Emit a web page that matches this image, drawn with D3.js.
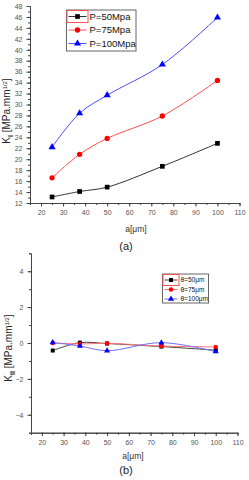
<!DOCTYPE html>
<html>
<head>
<meta charset="utf-8">
<script src="https://cdn.jsdelivr.net/npm/d3@7"></script>
<style>
  html, body { margin: 0; padding: 0; background: #fff; }
  svg { display: block; font-family: 'Liberation Sans', Arial, sans-serif; }
</style>
</head>
<body>
<svg id="chart" width="249" height="480"></svg>
<script>
// crack length a [µm]
const crackLengths = [25, 37.5, 50, 75, 100]

// (a) K_I for three pressures
const kI_P50  = [13.1, 14.1, 14.9, 18.7, 22.9]
const kI_P75  = [16.6, 20.9, 23.8, 27.9, 34.4]
const kI_P100 = [22.2, 28.4, 31.7, 37.3, 45.9]
const legendA = ['P=50Mpa', 'P=75Mpa', 'P=100Mpa']

// (b) K_II for three sizes
const kII_50  = [-0.42, 0.02, -0.03, -0.2, -0.4]
const kII_75  = [0.0, -0.05, -0.02, -0.17, -0.22]
const kII_100 = [0.03, -0.17, -0.43, 0.02, -0.48]
const legendB = ['θ=50μm', 'θ=75μm', 'θ=100μm']

const xTicks   = [20, 30, 40, 50, 60, 70, 80, 90, 100, 110]
const yTicksA  = d3.range(12, 49, 2)
const yTicksB  = [-4, -2, 0, 2, 4]

const markColors = ['#000', '#ff0000', '#0000ff']
const lineColorsA = ['#333', '#ff4d4d', '#4d4dff']
const lineColorsB = ['#444', '#ff7070', '#7070ff']
const symbols = [d3.symbolSquare, d3.symbolCircle, d3.symbolTriangle]

const svg = d3.select('#chart')

function drawPanel(cfg) {
  const x = d3.scaleLinear().domain([15, 110]).range(cfg.xRange)
  const y = d3.scaleLinear().domain(cfg.yDomain).range(cfg.yRange)
  const g = svg.append('g')

  // minor ticks
  const xMinor = d3.range(15, 111, 5)
  g.append('g')
    .attr('transform', `translate(0,${cfg.yRange[0]})`)
    .call(d3.axisBottom(x).tickValues(xMinor).tickSize(2).tickFormat(''))
  g.append('g')
    .attr('transform', `translate(${cfg.xRange[0]},0)`)
    .call(d3.axisLeft(y).tickValues(cfg.yMinor).tickSize(2).tickFormat(''))

  // major axes
  const xa = g.append('g')
    .attr('transform', `translate(0,${cfg.yRange[0]})`)
    .call(d3.axisBottom(x).tickValues(xTicks).tickSize(3.5).tickPadding(4).tickSizeOuter(0))
  const ya = g.append('g')
    .attr('transform', `translate(${cfg.xRange[0]},0)`)
    .call(d3.axisLeft(y).tickValues(cfg.yTicks).tickSize(3.5).tickPadding(4).tickSizeOuter(0))

  g.selectAll('.domain').attr('stroke', '#444')
  g.selectAll('.tick line').attr('stroke', '#444')
  ;[xa, ya].forEach(a => a.selectAll('text')
    .attr('fill', '#555').attr('font-size', '7px'))

  // series
  const line = d3.line()
    .x((d, i) => x(crackLengths[i]))
    .y(d => y(d))
    .curve(d3.curveCatmullRom.alpha(0.5))

  cfg.series.forEach((vals, s) => {
    g.append('path')
      .datum(vals)
      .attr('fill', 'none')
      .attr('stroke', cfg.lineColors[s])
      .attr('stroke-width', 1)
      .attr('d', line)
  })
  cfg.series.forEach((vals, s) => {
    g.selectAll(null)
      .data(vals)
      .enter()
      .append('path')
      .attr('transform', (d, i) => `translate(${x(crackLengths[i])},${y(d)})`)
      .attr('d', d3.symbol().type(symbols[s]).size(cfg.markSize))
      .attr('fill', markColors[s])
  })

  // axis titles
  g.append('text')
    .attr('x', cfg.xTitle[0]).attr('y', cfg.xTitle[1])
    .attr('text-anchor', 'middle')
    .attr('font-size', '8.5px').attr('fill', '#333')
    .text('a[μm]')

  const yt = g.append('text')
    .attr('transform', `translate(${cfg.yTitle[0]},${cfg.yTitle[1]}) rotate(-90)`)
    .attr('text-anchor', 'middle')
    .attr('font-size', '10px').attr('fill', '#222')
  yt.append('tspan').text('K')
  yt.append('tspan').attr('font-size', '7px').attr('font-weight', 'bold').attr('dy', 2.5).text(cfg.sub)
  yt.append('tspan').attr('dy', -2.5).text(' [MPa.mm')
  yt.append('tspan').attr('font-size', '6px').attr('dy', -3.5).text('1/2')
  yt.append('tspan').attr('dy', 3.5).text(']')

  g.append('text')
    .attr('x', cfg.caption[0]).attr('y', cfg.caption[1])
    .attr('text-anchor', 'middle')
    .attr('font-size', '11px').attr('fill', '#222')
    .text(cfg.captionText)

  // legend
  const L = cfg.legend
  g.append('rect')
    .attr('x', L.x).attr('y', L.y).attr('width', L.w).attr('height', L.h)
    .attr('fill', '#fff').attr('stroke', '#666').attr('stroke-width', 1)
  cfg.legendLabels.forEach((lab, s) => {
    const yy = L.y + L.first + s * L.step
    g.append('line')
      .attr('x1', L.x + 2).attr('x2', L.x + 2 + L.lineLen)
      .attr('y1', yy).attr('y2', yy)
      .attr('stroke', cfg.lineColors[s]).attr('stroke-width', 1)
    g.append('path')
      .attr('transform', `translate(${L.x + 2 + L.lineLen / 2},${yy})`)
      .attr('d', d3.symbol().type(symbols[s]).size(cfg.markSize))
      .attr('fill', markColors[s])
    g.append('text')
      .attr('x', L.x + L.lineLen + 5).attr('y', yy)
      .attr('dy', '0.35em')
      .attr('font-size', L.font).attr('fill', '#111')
      .text(lab)
  })
  // selection highlight around first entry symbol
  g.append('rect')
    .attr('x', L.x + 0.5).attr('y', L.y + 0.5)
    .attr('width', L.lineLen + 3).attr('height', L.first * 2 - 1)
    .attr('fill', 'none').attr('stroke', '#ff5050').attr('stroke-width', 1)
}

drawPanel({
  xRange: [30, 239.5],
  yDomain: [12, 48],
  yRange: [203, 6],
  yTicks: yTicksA,
  yMinor: d3.range(12, 49, 1),
  series: [kI_P50, kI_P75, kI_P100],
  lineColors: lineColorsA,
  markSize: 22,
  sub: 'I',
  xTitle: [136, 232],
  yTitle: [10, 111],
  caption: [126, 250],
  captionText: '(a)',
  legendLabels: legendA,
  legend: { x: 66.5, y: 10, w: 69.5, h: 41, first: 6.5, step: 13.5, lineLen: 18, font: '9.5px' }
})

drawPanel({
  xRange: [31, 237.5],
  yDomain: [-5, 5],
  yRange: [432.7, 253.3],
  yTicks: yTicksB,
  yMinor: d3.range(-5, 6, 1),
  series: [kII_50, kII_75, kII_100],
  lineColors: lineColorsB,
  markSize: 16,
  sub: 'II',
  xTitle: [133, 459],
  yTitle: [12, 348],
  caption: [126, 474],
  captionText: '(b)',
  legendLabels: legendB,
  legend: { x: 162.5, y: 274, w: 46, h: 29, first: 6, step: 9.5, lineLen: 13, font: '6.5px' }
})
</script>
</body>
</html>
